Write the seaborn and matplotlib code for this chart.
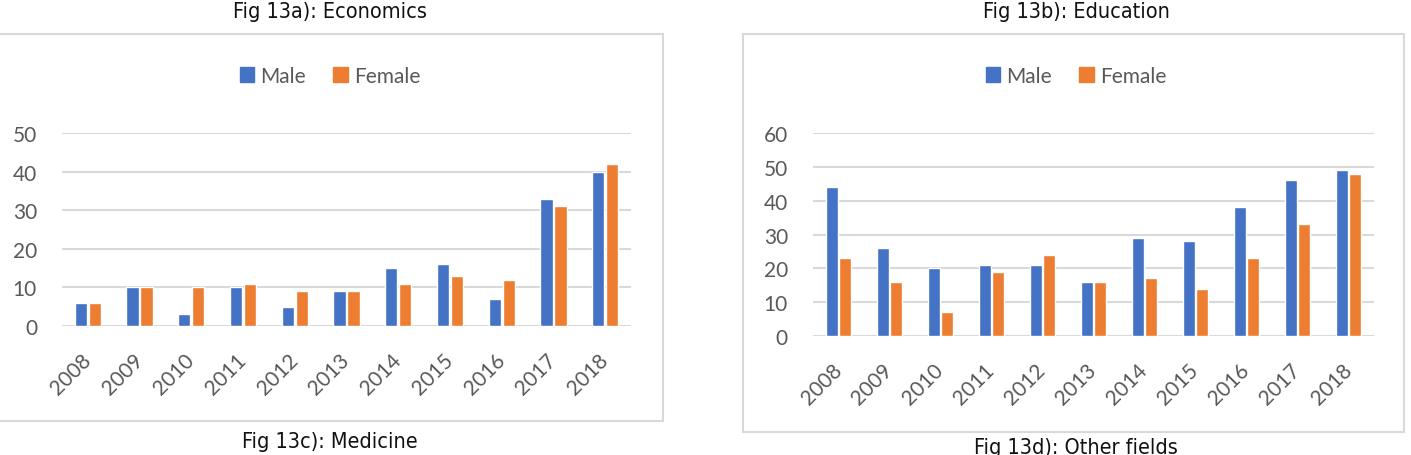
import pandas as pd
import matplotlib.pyplot as plt
import seaborn as sns
from matplotlib.patches import Rectangle, Patch

# Valeurs
years = ['2008', '2009', '2010', '2011', '2012', '2013', '2014', '2015', '2016', '2017', '2018']
econ_male = [6, 10, 3, 10, 5, 9, 15, 16, 7, 33, 40]
econ_female = [6, 10, 10, 11, 9, 9, 11, 13, 12, 31, 42]
edu_male = [44, 26, 20, 21, 21, 16, 29, 28, 38, 46, 49]
edu_female = [23, 16, 7, 19, 24, 16, 17, 14, 23, 33, 48]
series = ['Male', 'Female']

BLUE = '#4472C4'
ORANGE = '#ED7D31'
GREY = '#595959'
GRID = '#D9D9D9'

W, H = 1411, 456

sns.set_theme(style='white')
plt.rcParams['font.family'] = ['Lato', 'DejaVu Sans']


def long_df(male, female):
    return pd.DataFrame({
        'year': years * 2,
        'sex': ['Male'] * len(years) + ['Female'] * len(years),
        'value': male + female,
    })


def px_axes(fig, x0, x1, ytop, ybot):
    return fig.add_axes([x0 / W, (H - ybot) / H, (x1 - x0) / W, (ybot - ytop) / H])


fig = plt.figure(figsize=(W / 100, H / 100), dpi=100)

# cadres autour des graphiques
for (bx0, bx1, by0, by1) in [(-3, 663, 35, 422), (743, 1404, 35, 433)]:
    fig.patches.append(Rectangle((bx0 / W, (H - by1) / H), (bx1 - bx0) / W, (by1 - by0) / H,
                                 transform=fig.transFigure, fill=False,
                                 edgecolor=GRID, linewidth=1.5))

panels = [
    (econ_male, econ_female, (62, 631, 134, 327), 50, 330, 'Fig 13a): Economics', 'Fig 13c): Medicine', 442),
    (edu_male, edu_female, (813, 1374, 134, 337), 60, 1076, 'Fig 13b): Education', 'Fig 13d): Other fields', 448),
]

for male, female, box, ymax, cx, title, caption, cap_y in panels:
    ax = px_axes(fig, *box)
    sns.barplot(data=long_df(male, female), x='year', y='value', hue='sex',
                hue_order=series, palette=[BLUE, ORANGE], saturation=1,
                width=0.54, gap=0.12, legend=False, ax=ax)
    ax.set_ylim(0, ymax)
    ax.set_yticks(range(0, ymax + 1, 10))
    ax.set_xlabel('')
    ax.set_ylabel('')
    ax.yaxis.grid(True, color=GRID, linewidth=1.5)
    ax.set_axisbelow(True)
    for s in ax.spines.values():
        s.set_visible(False)
    ax.tick_params(axis='y', length=0, pad=18, labelsize=15, labelcolor=GREY)
    ax.tick_params(axis='x', length=0, pad=22, labelsize=15, labelcolor=GREY)
    for lab in ax.get_xticklabels():
        lab.set_rotation(45)
        lab.set_ha('right')
        lab.set_va('center')
        lab.set_rotation_mode('anchor')

    handles = [Patch(color=BLUE, label='Male'), Patch(color=ORANGE, label='Female')]
    fig.legend(handles=handles, loc='center', bbox_to_anchor=(cx / W, (H - 77) / H),
               ncol=2, frameon=False, fontsize=15, handlelength=0.7, handleheight=0.7,
               handletextpad=0.3, columnspacing=1.3, labelcolor=GREY)

    fig.text(cx / W, (H - 12) / H, title, ha='center', va='center', fontsize=15.5,
             fontstretch='condensed', family=['DejaVu Sans'], color='#111111')
    fig.text(cx / W, (H - cap_y) / H, caption, ha='center', va='center', fontsize=15.5,
             fontstretch='condensed', family=['DejaVu Sans'], color='#111111')

fig.savefig('out.png', dpi=100, facecolor='white')
